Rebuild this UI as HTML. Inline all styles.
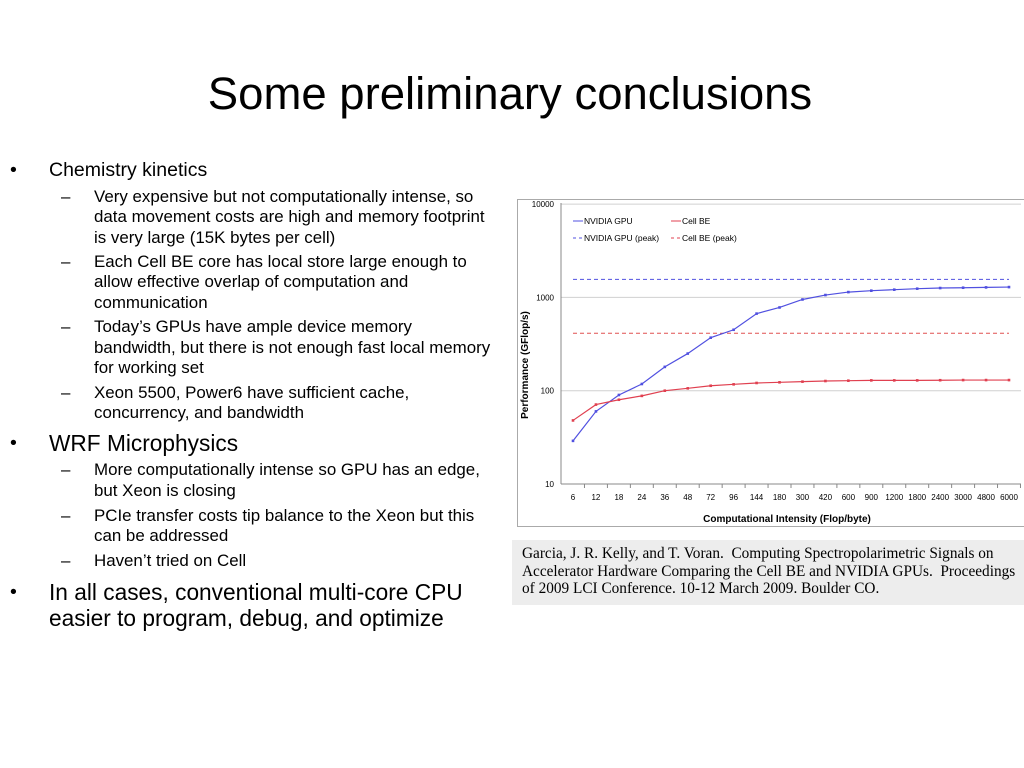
<!DOCTYPE html>
<html><head><meta charset="utf-8"><style>
body{margin:0;width:1024px;height:768px;background:#fff;position:relative;overflow:hidden;font-family:"Liberation Sans",Arial,sans-serif;color:#000}
.t{position:absolute;white-space:nowrap;line-height:20px}
.l1{font-size:19.5px}.l2{font-size:16.9px}.l1b{font-size:22.7px;line-height:26px}
</style></head><body>
<div class="t" style="left:0;width:1020px;text-align:center;top:68px;font-size:45.5px;line-height:52px">Some preliminary conclusions</div>
<div>
<div class="t l1" style="left:10px;top:160px">•</div><div class="t l1" style="left:49px;top:160px">Chemistry kinetics</div>
<div class="t l2" style="left:61px;top:187px">–</div>
<div class="t l2" style="left:94px;top:187px">Very expensive but not computationally intense, so</div>
<div class="t l2" style="left:94px;top:207px">data movement costs are high and memory footprint</div>
<div class="t l2" style="left:94px;top:228px">is very large (15K bytes per cell)</div>
<div class="t l2" style="left:61px;top:252px">–</div>
<div class="t l2" style="left:94px;top:252px">Each Cell BE core has local store large enough to</div>
<div class="t l2" style="left:94px;top:272px">allow effective overlap of computation and</div>
<div class="t l2" style="left:94px;top:293px">communication</div>
<div class="t l2" style="left:61px;top:317px">–</div>
<div class="t l2" style="left:94px;top:317px">Today’s GPUs have ample device memory</div>
<div class="t l2" style="left:94px;top:338px">bandwidth, but there is not enough fast local memory</div>
<div class="t l2" style="left:94px;top:358px">for working set</div>
<div class="t l2" style="left:61px;top:383px">–</div>
<div class="t l2" style="left:94px;top:383px">Xeon 5500, Power6 have sufficient cache,</div>
<div class="t l2" style="left:94px;top:403px">concurrency, and bandwidth</div>
<div class="t l1" style="left:10px;top:433px">•</div><div class="t l1b" style="left:49px;top:430px">WRF Microphysics</div>
<div class="t l2" style="left:61px;top:460px">–</div>
<div class="t l2" style="left:94px;top:460px">More computationally intense so GPU has an edge,</div>
<div class="t l2" style="left:94px;top:481px">but Xeon is closing</div>
<div class="t l2" style="left:61px;top:506px">–</div>
<div class="t l2" style="left:94px;top:506px">PCIe transfer costs tip balance to the Xeon but this</div>
<div class="t l2" style="left:94px;top:526px">can be addressed</div>
<div class="t l2" style="left:61px;top:551px">–</div>
<div class="t l2" style="left:94px;top:551px">Haven’t tried on Cell</div>
<div class="t l1" style="left:10px;top:582px">•</div>
<div class="t l1b" style="left:49px;top:579px">In all cases, conventional multi-core CPU</div>
<div class="t l1b" style="left:49px;top:605px">easier to program, debug, and optimize</div>
</div>
<svg id="chart" style="position:absolute;left:0;top:0" width="1024" height="768"></svg>
<div style="position:absolute;left:512px;top:540px;width:512px;height:65px;background:#ededed;font-family:'Liberation Serif',serif;font-size:15.3px;line-height:17.5px;padding:5px 0 0 10px;box-sizing:border-box;white-space:nowrap;overflow:hidden">Garcia, J. R. Kelly, and T. Voran.&nbsp; Computing Spectropolarimetric Signals on<br>Accelerator Hardware Comparing the Cell BE and NVIDIA GPUs.&nbsp; Proceedings<br>of 2009 LCI Conference. 10-12 March 2009. Boulder CO.</div>
<script>
const categories=["6","12","18","24","36","48","72","96","144","180","300","420","600","900","1200","1800","2400","3000","4800","6000"];
const gpuValues=[29,60,90,118,180,250,370,450,670,780,950,1060,1140,1180,1210,1240,1260,1270,1280,1290];
const cellValues=[48,71,80,88,100,106,113,117,121,123,125,127,128,129,129,129,129.5,130,130,130];
const gpuPeak=[1560];
const cellPeak=[413];
const yTicks=[10,100,1000,10000];
const NS="http://www.w3.org/2000/svg";
const svg=document.getElementById('chart');
function mk(tag,attrs,parent){const e=document.createElementNS(NS,tag);for(const k in attrs)e.setAttribute(k,attrs[k]);(parent||svg).appendChild(e);return e;}
const x0=573,dx=(1009-573)/19;
function xs(i){return x0+i*dx;}
function ys(v){return 484-(Math.log10(v)-1)*93.3;}
const box=mk('rect',{x:517.5,y:199.5,width:510,height:327,fill:'#fff',stroke:'#aaa'});


yTicks.forEach(t=>{
  if(t>10){const g=mk('line',{x1:561,x2:1021,y1:ys(t),y2:ys(t),stroke:'#d0d0d0'});
  
  }
  const l=mk('text',{x:554,y:ys(t)+3,'text-anchor':'end','font-size':8,'font-family':'Liberation Sans, sans-serif'});l.textContent=t;
  
  
});
mk('line',{x1:561,x2:561,y1:203,y2:484,stroke:'#888'});
mk('line',{x1:561,x2:1021,y1:484,y2:484,stroke:'#888'});
categories.forEach((c,i)=>{
  const l=mk('text',{x:xs(i),y:500,'text-anchor':'middle','font-size':8,'font-family':'Liberation Sans, sans-serif'});l.textContent=c;
  
  
  mk('line',{x1:xs(i)+dx/2,x2:xs(i)+dx/2,y1:484,y2:488,stroke:'#888'});
});
const xt=mk('text',{x:787,y:522,'text-anchor':'middle','font-size':10,'font-weight':'bold','font-family':'Liberation Sans, sans-serif'});xt.textContent='Computational Intensity (Flop/byte)';


const yt=mk('text',{x:0,y:0,'text-anchor':'middle','font-size':10,'font-weight':'bold','font-family':'Liberation Sans, sans-serif',transform:'translate(528,365) rotate(-90)'});yt.textContent='Performance (GFlop/s)';


const p1=mk('line',{x1:xs(0),x2:xs(19),y1:ys(gpuPeak[0]),y2:ys(gpuPeak[0]),stroke:'#5050e0','stroke-dasharray':'4,3'});


const p2=mk('line',{x1:xs(0),x2:xs(19),y1:ys(cellPeak[0]),y2:ys(cellPeak[0]),stroke:'#e05050','stroke-dasharray':'4,3'});


function series(vals,col,name){
  const pl=mk('polyline',{points:vals.map((v,i)=>xs(i)+','+ys(v)).join(' '),fill:'none',stroke:col,'stroke-width':1.2});
  
  
  vals.forEach((v,i)=>{const p=mk('rect',{x:xs(i)-1.3,y:ys(v)-1.3,width:2.6,height:2.6,fill:col});
  
  });
}
series(gpuValues,'#5050e0','nvidia-gpu');
series(cellValues,'#e04050','cell-be');
const leg=[[573,221,'#5050e0',false,'NVIDIA GPU'],[671,221,'#e04050',false,'Cell BE'],[573,238,'#5050e0',true,'NVIDIA GPU (peak)'],[671,238,'#e04050',true,'Cell BE (peak)']];
leg.forEach(L=>{
  const g=mk('g',{});
  
  
  mk('line',{x1:L[0],x2:L[0]+10,y1:L[1],y2:L[1],stroke:L[2],'stroke-dasharray':L[3]?'3,3':'none'},g);
  const t=mk('text',{x:L[0]+11,y:L[1]+3,'font-size':8.5,'font-family':'Liberation Sans, sans-serif'},g);t.textContent=L[4];
});
</script>
</body></html>
